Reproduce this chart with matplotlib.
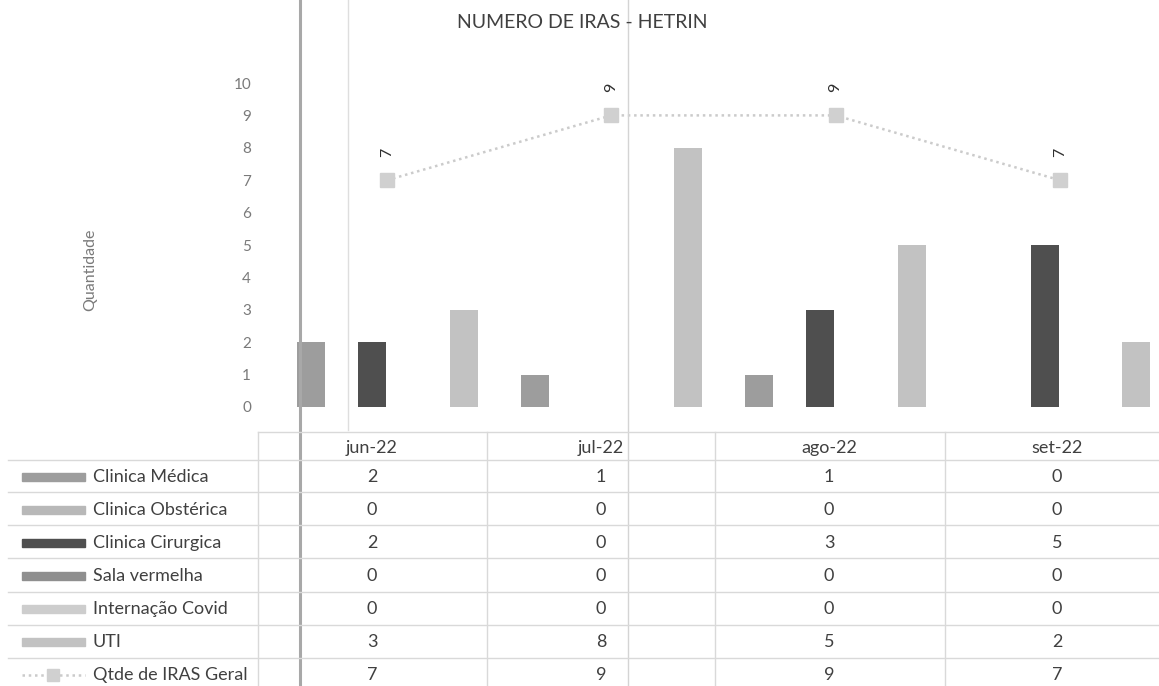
import numpy as np
import matplotlib
matplotlib.use('Agg')
import matplotlib.pyplot as plt
from matplotlib.lines import Line2D

# ------------------------------------------ DATA ------------------------------------------------------------#
months = ['jun-22', 'jul-22', 'ago-22', 'set-22']
series_names = ['Clinica Médica', 'Clinica Obstérica', 'Clinica Cirurgica',
                'Sala vermelha', 'Internação Covid', 'UTI']
clinica_medica = [2, 1, 1, 0]
clinica_obstetrica = [0, 0, 0, 0]
clinica_cirurgica = [2, 0, 3, 5]
sala_vermelha = [0, 0, 0, 0]
internacao_covid = [0, 0, 0, 0]
uti = [3, 8, 5, 2]
line_name = 'Qtde de IRAS Geral'
qtde_geral = [7, 9, 9, 7]
y_ticks = list(range(0, 11))

bar_values = [clinica_medica, clinica_obstetrica, clinica_cirurgica,
              sala_vermelha, internacao_covid, uti]
colors = ['#9d9d9d', '#b8b8b8', '#4f4f4f', '#8f8f8f', '#cdcdcd', '#c2c2c2']
line_color = '#cbcbcb'
text_color = '#404040'
tick_color = '#7a7a7a'

# ------------------------------------------ FIGURE ----------------------------------------------------------#
plt.rcParams['font.family'] = ['Lato', 'DejaVu Sans']
W, H = 1159, 686
fig = plt.figure(figsize=(W / 100, H / 100), dpi=100)


def fx(px):
    return px / W


def fy(py):
    return 1 - py / H


## scan artefacts: vertical lines of the sheet
fig.add_artist(Line2D([fx(300), fx(300)], [0, 1], color='#a8a8a8', lw=2.2))
fig.add_artist(Line2D([fx(348), fx(348)], [fy(430), 1], color='#dedede', lw=1))
fig.add_artist(Line2D([fx(628), fx(628)], [0, 1], color='#d4d4d4', lw=1))

## chart area
x0_px, x1_px = 258, 1159
y0_px, y10_px = 407, 83
cat_w = 224.3
first_c = 387
ax = fig.add_axes([fx(x0_px), fy(y0_px), fx(x1_px - x0_px), (y0_px - y10_px) / H])
ax.set_xlim((x0_px - first_c) / cat_w, (x1_px - first_c) / cat_w)
ax.set_ylim(0, 10)
ax.patch.set_alpha(0)

x = np.arange(len(months))
slot = 30.6 / cat_w
bw = 28 / cat_w
for k, (vals, c) in enumerate(zip(bar_values, colors)):
    ax.bar(x + (k - 2.5) * slot, vals, width=bw, color=c, zorder=2)

ax.plot(x, qtde_geral, color=line_color, lw=1.8, ls=(0, (1, 1.5)), marker='s',
        markersize=10.5, markerfacecolor='#d0d0d0', markeredgecolor='#d0d0d0', zorder=3)
for xi, v in zip(x, qtde_geral):
    ax.annotate(str(v), (xi, v), xytext=(0, 20), textcoords='offset points',
                rotation=90, ha='center', va='center', fontsize=11.5, color='#303030')

ax.set_yticks(y_ticks)
ax.set_yticklabels([str(t) for t in y_ticks], fontsize=11, color=tick_color)
ax.tick_params(axis='y', length=0, pad=5)
ax.set_xticks([])
for s in ax.spines.values():
    s.set_visible(False)

fig.text(fx(90), fy(270), 'Quantidade', rotation=90, ha='center', va='center',
         fontsize=11.5, color=tick_color)
fig.text(fx(582), fy(22), 'NUMERO DE IRAS - HETRIN', ha='center', va='center',
         fontsize=14, color=text_color)

## data table
col_edges = [258, 487, 715, 945, 1159]
col_centers = [372, 601, 829, 1057]
row_lines = [460, 492, 525, 558, 592, 625, 658]
row_centers = [477, 510, 543, 576, 609, 642, 675]
grid_c = '#d9d9d9'
tfs = 13

fig.add_artist(Line2D([fx(258), 1], [fy(432), fy(432)], color=grid_c, lw=1))
for yl in row_lines:
    fig.add_artist(Line2D([fx(8), 1], [fy(yl), fy(yl)], color=grid_c, lw=1))
for xe in col_edges[:-1]:
    fig.add_artist(Line2D([fx(xe), fx(xe)], [0, fy(432)], color=grid_c, lw=1))

for m, cx in zip(months, col_centers):
    fig.text(fx(cx), fy(448), m, ha='center', va='center', fontsize=tfs, color=text_color)

rows_vals = bar_values + [qtde_geral]
row_names = series_names + [line_name]
for i, (name, vals) in enumerate(zip(row_names, rows_vals)):
    yc = row_centers[i]
    if i < len(colors):
        fig.patches.append(plt.Rectangle((fx(22), fy(yc + 4)), fx(63), 8 / H,
                                         transform=fig.transFigure, color=colors[i]))
    else:
        fig.add_artist(Line2D([fx(22), fx(85)], [fy(yc), fy(yc)], color=line_color,
                              lw=1.8, ls=(0, (1, 1.5))))
        fig.add_artist(Line2D([fx(53)], [fy(yc)], marker='s', markersize=8,
                              color='#d0d0d0', lw=0))
    fig.text(fx(93), fy(yc), name, ha='left', va='center', fontsize=tfs, color=text_color)
    for v, cx in zip(vals, col_centers):
        fig.text(fx(cx), fy(yc), str(v), ha='center', va='center', fontsize=tfs,
                 color=text_color)

plt.savefig('out.png', dpi=100)
